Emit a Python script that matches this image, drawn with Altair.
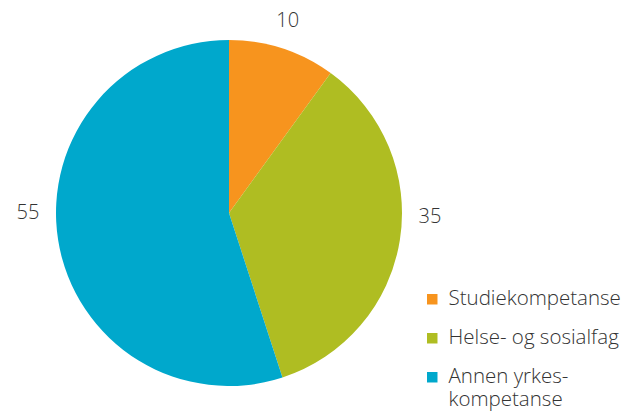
import altair as alt
import pandas as pd

categories = ["Studiekompetanse", "Helse- og sosialfag", "Annen yrkes-kompetanse"]
values = [10, 35, 55]
colors = ["#F7941E", "#AFBD22", "#00A8CC"]

# label placement angles (degrees clockwise from top), layout only
label_angles = [17, 91, 270]

df = pd.DataFrame({"cat": categories, "val": values, "order": [0, 1, 2]})
df["ang"] = label_angles

cx, cy, R = 221, 205, 173

pie = alt.Chart(df).mark_arc(radius=R, stroke=None).encode(
    theta=alt.Theta("val:Q", stack=True),
    order=alt.Order("order:Q"),
    color=alt.Color(
        "cat:N",
        sort=categories,
        scale=alt.Scale(domain=categories, range=colors),
        legend=alt.Legend(
            title=None,
            orient="none",
            legendX=414,
            legendY=281,
            symbolType="square",
            symbolSize=110,
            symbolStrokeWidth=0,
            labelFont="Open Sans",
            labelFontWeight=300,
            labelFontSize=20.5,
            labelColor="#333333",
            labelLimit=300,
            rowPadding=18,
            symbolOffset=0,
            labelOffset=6,
            labelExpr="datum.label == 'Annen yrkes-kompetanse' ? ['Annen yrkes-', 'kompetanse'] : datum.label",
        ),
    ),
    x=alt.value(cx),
    y=alt.value(cy),
)

text = alt.Chart(df).mark_text(
    font="Open Sans", fontWeight=300, fontSize=20, color="#333333"
).encode(
    theta=alt.Theta("ang:Q", stack=None, scale=alt.Scale(domain=[0, 360], range=[0, 6.283185])),
    radius=alt.value(201),
    text=alt.Text("val:Q"),
    x=alt.value(cx),
    y=alt.value(cy),
)

chart = alt.layer(pie, text).resolve_scale(theta="independent").properties(
    width=614, height=398, padding=0
).configure(
    style={"guide-label": {"lineHeight": 23}},
    view=alt.ViewConfig(strokeWidth=0),
)

chart.save("out.html", embed_options={"renderer": "svg", "actions": False})
